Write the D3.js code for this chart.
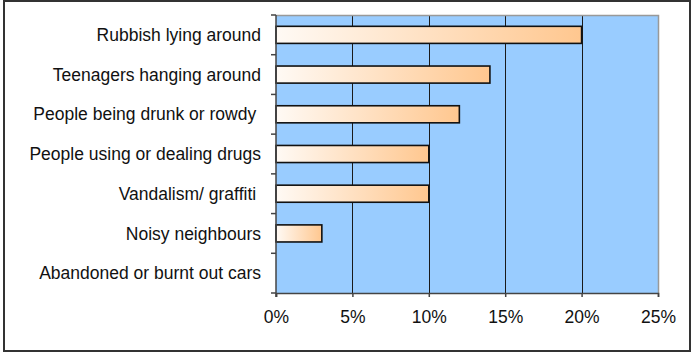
<!DOCTYPE html>
<html>
<head>
<meta charset="utf-8">
<script src="https://cdn.jsdelivr.net/npm/d3@7"></script>
<style>
    body { margin: 0; background: #fff; }
    svg { display: block; font-family: "Liberation Sans", Arial, sans-serif; }
</style>
</head>
<body>
<svg></svg>
<script>
let width = 692;
let height = 353;
let plotLeft = 276, plotRight = 658, plotTop = 15, plotBottom = 293;

// data
let categories = [
    "Rubbish lying around",
    "Teenagers hanging around",
    "People being drunk or rowdy ",
    "People using or dealing drugs",
    "Vandalism/ graffiti ",
    "Noisy neighbours",
    "Abandoned or burnt out cars"
];
let values = [20, 14, 12, 10, 10, 3, 0];
let xTicks = [0, 5, 10, 15, 20, 25];

let data = categories.map((c, i) => ({ name: c, value: values[i] }));

let svg = d3.select("svg")
    .attr("width", width)
    .attr("height", height);

// outer frame
svg.append("rect")
    .attr("x", 4).attr("y", 1)
    .attr("width", 686).attr("height", 350)
    .attr("fill", "#fff")
    .attr("stroke", "#333")
    .attr("stroke-width", 2);

let scaleX = d3.scaleLinear().domain([0, 25]).range([plotLeft, plotRight]);
let scaleY = d3.scaleBand()
    .domain(categories)
    .range([plotTop, plotBottom])
    .paddingInner(0.57)
    .paddingOuter(0.285);

let defs = svg.append("defs");
let grad = defs.append("linearGradient")
    .attr("id", "barGrad")
    .attr("x1", "0%").attr("x2", "100%")
    .attr("y1", "0%").attr("y2", "0%");
grad.append("stop").attr("offset", "0%").attr("stop-color", "#fffaf5");
grad.append("stop").attr("offset", "100%").attr("stop-color", "#ffc78f");

// plot area
svg.append("rect")
    .attr("x", plotLeft).attr("y", plotTop)
    .attr("width", plotRight - plotLeft)
    .attr("height", plotBottom - plotTop)
    .attr("fill", "#99ccff");

// gridlines
svg.append("g")
    .selectAll("line")
    .data(xTicks.slice(1, -1))
    .enter()
    .append("line")
    .attr("x1", d => Math.round(scaleX(d)) + 0.5)
    .attr("x2", d => Math.round(scaleX(d)) + 0.5)
    .attr("y1", plotTop)
    .attr("y2", plotBottom)
    .attr("stroke", "#1a1a1a")
    .attr("stroke-width", 1);

// plot border top/right
svg.append("path")
    .attr("d", `M${plotLeft},${plotTop + 0.5}H${plotRight + 0.5}V${plotBottom}`)
    .attr("fill", "none")
    .attr("stroke", "#999")
    .attr("stroke-width", 1.5);

// bars
svg.append("g")
    .selectAll("rect")
    .data(data.filter(d => d.value > 0))
    .enter()
    .append("rect")
    .attr("x", scaleX(0))
    .attr("y", d => scaleY(d.name))
    .attr("width", d => scaleX(d.value) - scaleX(0))
    .attr("height", scaleY.bandwidth())
    .attr("fill", "url(#barGrad)")
    .attr("stroke", "#111")
    .attr("stroke-width", 1.6);

// y axis
let stepY = (plotBottom - plotTop) / categories.length;
let yTickPos = d3.range(categories.length + 1).map(i => plotTop + i * stepY);
let gy = svg.append("g");
gy.append("line")
    .attr("x1", plotLeft).attr("x2", plotLeft)
    .attr("y1", plotTop).attr("y2", plotBottom + 4)
    .attr("stroke", "#444").attr("stroke-width", 1.5);
gy.selectAll(".tk")
    .data(yTickPos)
    .enter()
    .append("line")
    .attr("x1", plotLeft - 5).attr("x2", plotLeft)
    .attr("y1", d => d).attr("y2", d => d)
    .attr("stroke", "#444").attr("stroke-width", 1.5);
gy.selectAll("text")
    .data(categories)
    .enter()
    .append("text")
    .attr("x", 261)
    .attr("y", d => scaleY(d) + scaleY.bandwidth() / 2)
    .attr("dy", "0.35em")
    .attr("text-anchor", "end")
    .attr("font-size", 17.5)
    .attr("fill", "#111")
    .style("white-space", "pre")
    .text(d => d);

// x axis
let axisX = d3.axisBottom(scaleX)
    .tickValues(xTicks)
    .tickSize(4)
    .tickPadding(14)
    .tickFormat(d => d + "%");
let gx = svg.append("g")
    .attr("transform", `translate(0, ${plotBottom})`)
    .call(axisX);
gx.select(".domain").attr("stroke", "#444").attr("stroke-width", 1.5);
gx.selectAll(".tick line").attr("stroke", "#444").attr("stroke-width", 1.5);
gx.selectAll("text")
    .attr("font-size", 17.5)
    .attr("font-family", "\"Liberation Sans\", Arial, sans-serif")
    .attr("fill", "#111");
</script>
</body>
</html>
